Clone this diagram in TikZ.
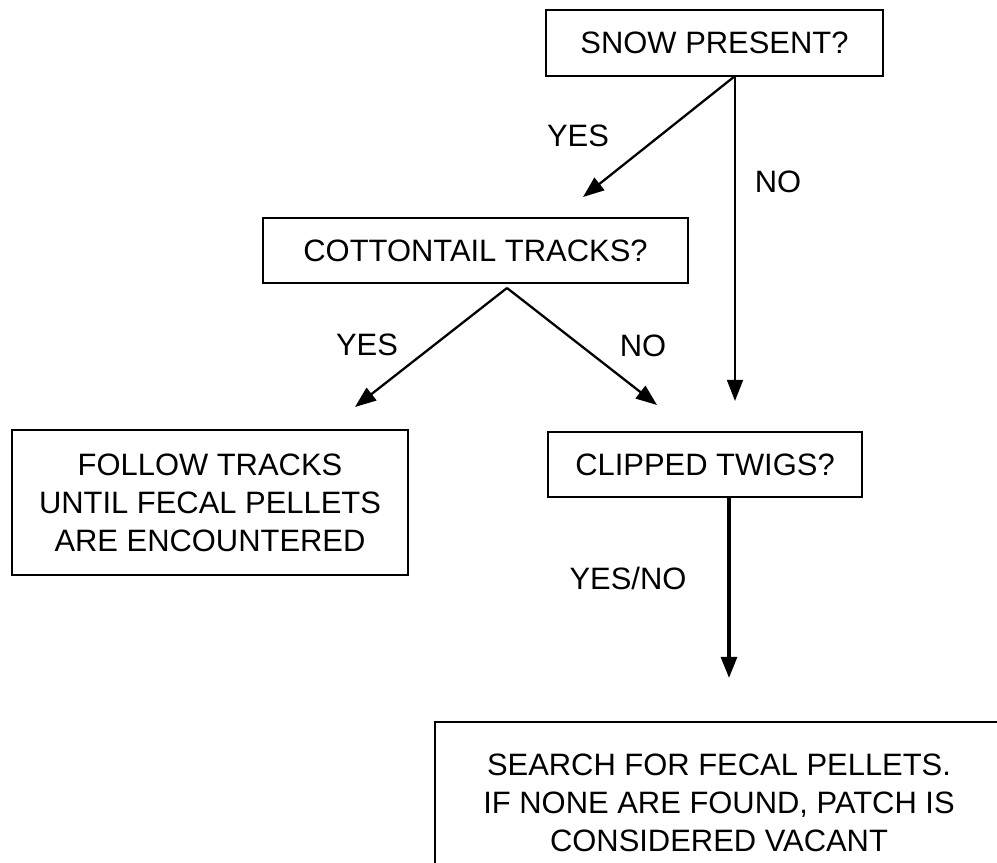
\documentclass[tikz,border=0pt]{standalone}
\usepackage{fontspec}
\setmainfont{Liberation Sans}
\usetikzlibrary{arrows.meta}

\begin{document}
\begin{tikzpicture}[x=0.02cm, y=-0.02cm,
    box/.style={draw, line width=1.3pt, align=center, inner sep=0pt},
    lbl/.style={inner sep=0pt},
    arr/.style={-{Triangle[length=12pt, width=9pt]}, line width=1.3pt}]
    \fontsize{17.6}{21.6}\selectfont
    \clip (0, 0) rectangle (997, 862);

    % question boxes
    \node [box, minimum width=6.74cm, minimum height=1.32cm] (snow) at (714.5, 43) {SNOW PRESENT?};
    \node [box, minimum width=8.5cm, minimum height=1.3cm] (cotton) at (475.5, 250.5) {COTTONTAIL TRACKS?};
    \node [box, minimum width=6.28cm, minimum height=1.3cm] (clipped) at (705, 464.5) {CLIPPED TWIGS?};
    % outcome boxes
    \node [box, minimum width=7.92cm, minimum height=2.9cm] (follow) at (210, 502.5)
        {FOLLOW TRACKS\\UNTIL FECAL PELLETS\\ARE ENCOUNTERED};
    \node [box, minimum width=11.36cm, minimum height=3.24cm] (search) at (719, 803)
        {SEARCH FOR FECAL PELLETS.\\IF NONE ARE FOUND, PATCH IS\\CONSIDERED VACANT};

    % arrow ends
    \coordinate (fork1) at (735, 76);
    \coordinate (fork2) at (507, 288);
    \coordinate (snowyes) at (583, 197);
    \coordinate (snowno) at (735, 401);
    \coordinate (cottonyes) at (355, 407);
    \coordinate (cottonno) at (657, 405);
    \coordinate (clipend) at (729, 678);

    \draw [arr] (fork1) -- (snowyes);
    \draw [arr] (fork1) -- (snowno);
    \draw [arr] (fork2) -- (cottonyes);
    \draw [arr] (fork2) -- (cottonno);
    \draw [arr, line width=2pt] (clipped.south -| clipend) -- (clipend);

    \node [lbl] (lyes1) at (578, 136) {YES};
    \node [lbl] (lno1) at (778, 182) {NO};
    \node [lbl] (lyes2) at (367, 345) {YES};
    \node [lbl] (lno2) at (643, 346) {NO};
    \node [lbl] (lyesno) at (628, 578) {YES/NO};
\end{tikzpicture}
\end{document}
